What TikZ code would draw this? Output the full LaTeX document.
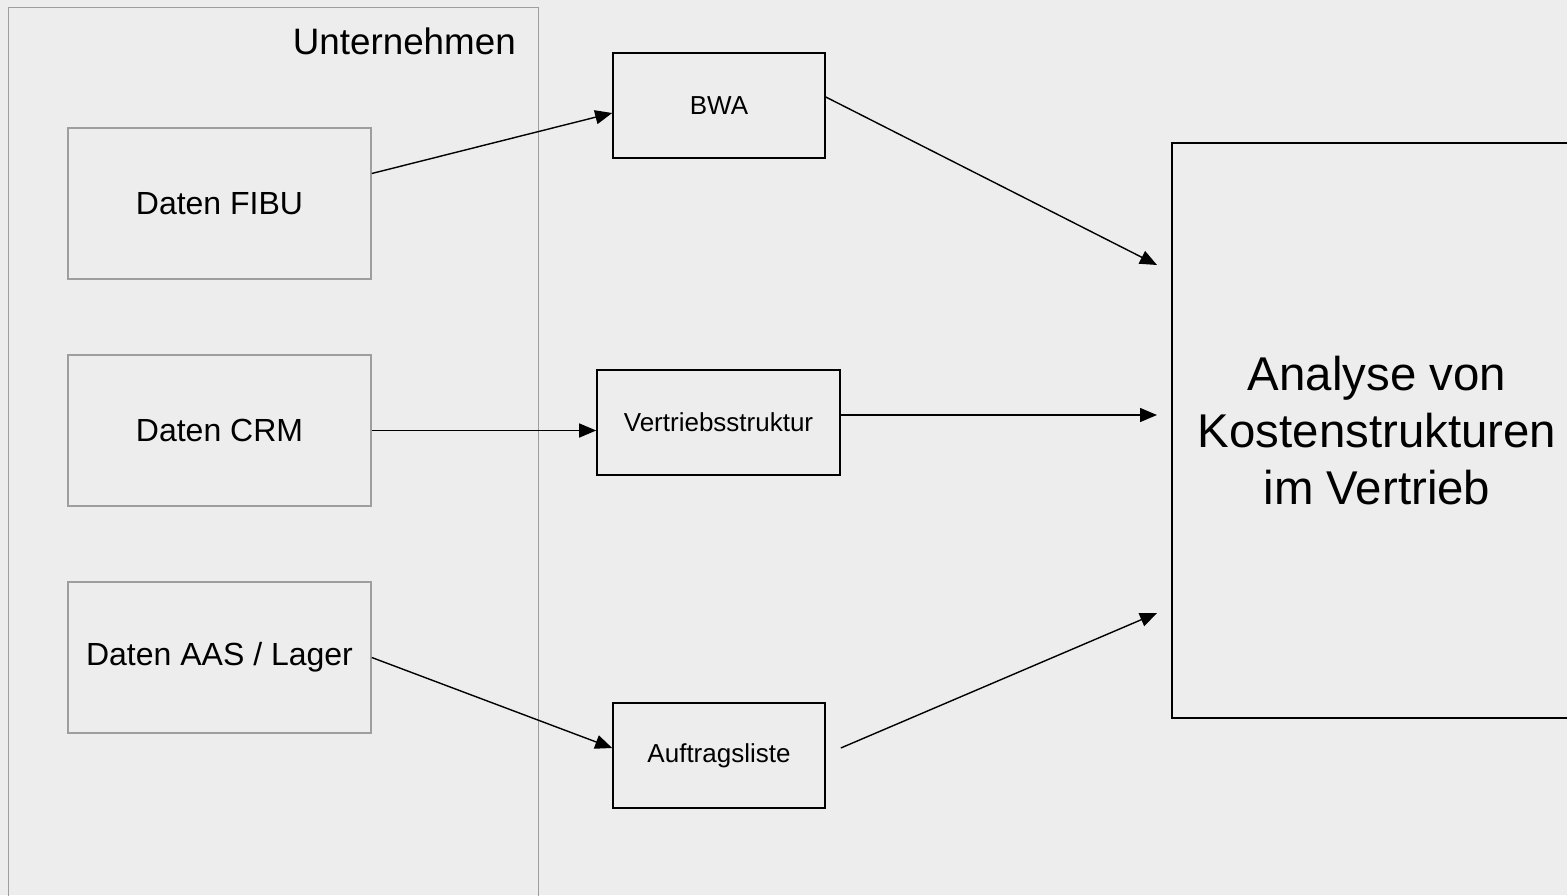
\documentclass[tikz,border=0pt]{standalone}
\usepackage{fontspec}
\setmainfont{Liberation Sans}
\usetikzlibrary{arrows.meta}
\definecolor{bgc}{HTML}{EDEDED}
\definecolor{graybd}{HTML}{9E9E9E}
\begin{document}
\begin{tikzpicture}[x=1pt,y=-1pt,
  srcbox/.style={draw=graybd,line width=1.6pt,minimum width=303pt,minimum height=151pt,inner sep=0pt,font=\fontsize{32}{38}\selectfont},
  midbox/.style={draw=black,line width=1.6pt,minimum height=105pt,inner sep=0pt,font=\fontsize{26}{31}\selectfont},
  conn/.style={line width=1.4pt,-{Triangle[length=17pt,width=14pt]}}]
\useasboundingbox[fill=bgc] (0,0) rectangle (1567,895);
% container
\node[draw=graybd,line width=1.4pt,minimum width=530pt,minimum height=920pt,inner sep=0pt,anchor=north west] (unt) at (8,7) {};
\node[anchor=base east,inner sep=0pt,font=\fontsize{36.8}{44}\selectfont] (untl) at (516,54) {Unternehmen};
% source boxes
\node[srcbox] (fibu) at (219.5,203.5) {Daten FIBU};
\node[srcbox] (crm) at (219.5,430.5) {Daten CRM};
\node[srcbox] (aas) at (219.5,657.5) {Daten AAS / Lager};
% middle boxes
\node[midbox,minimum width=212pt] (bwa) at (719,105.5) {BWA};
\node[midbox,minimum width=243pt] (vs) at (718.5,422.5) {Vertriebsstruktur};
\node[midbox,minimum width=212pt] (auf) at (719,755.5) {Auftragsliste};
% target
\node[draw=black,line width=1.6pt,minimum width=410pt,minimum height=575pt,inner sep=0pt,align=center,font=\fontsize{47.4}{57}\selectfont] (ana) at (1377,430.5) {Analyse von\\Kostenstrukturen\\im Vertrieb};
\coordinate (t1) at (1157,265);
\coordinate (t2) at (1157,415);
\coordinate (t3) at (1157,613);
% connectors
\draw[conn] ([yshift=30pt]fibu.east) -- ([yshift=-7.5pt]bwa.west);
\draw[conn] (crm.east) -- ([yshift=-8pt]vs.west);
\draw[conn] (aas.east) -- ([yshift=7.5pt]auf.west);
\draw[conn] ([yshift=8.5pt]bwa.east) -- (t1);
\draw[conn] ([yshift=7.5pt]vs.east) -- (t2);
\draw[conn] ([xshift=15pt,yshift=7.5pt]auf.east) -- (t3);
\end{tikzpicture}
\end{document}
